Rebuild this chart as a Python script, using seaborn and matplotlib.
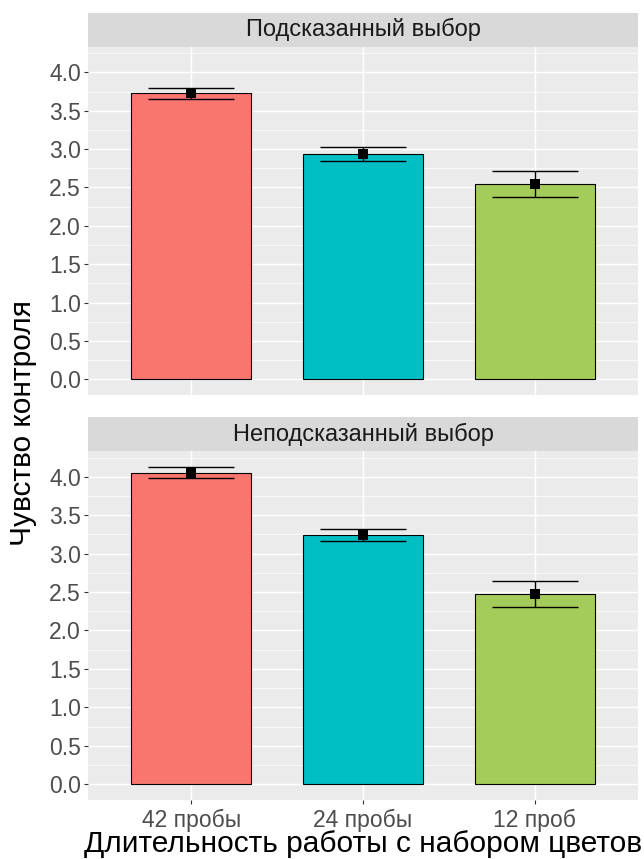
import numpy as np
import pandas as pd
import matplotlib
matplotlib.use("Agg")
import matplotlib.pyplot as plt
import seaborn as sns

# ---- data ----
categories = ["42 пробы", "24 пробы", "12 проб"]
panels = ["Подсказанный выбор", "Неподсказанный выбор"]
cued_means = [3.73, 2.94, 2.55]
cued_lower = [3.65, 2.84, 2.38]
cued_upper = [3.80, 3.03, 2.71]
uncued_means = [4.05, 3.24, 2.47]
uncued_lower = [3.98, 3.16, 2.30]
uncued_upper = [4.13, 3.32, 2.64]
y_ticks = [0.0, 0.5, 1.0, 1.5, 2.0, 2.5, 3.0, 3.5, 4.0]
x_title = "Длительность работы с набором цветов"
y_title = "Чувство контроля"

bar_colors = ["#F8766D", "#00BFC4", "#A3CC5B"]

sns.set_theme(style="darkgrid")
plt.rcParams["font.family"] = ["Liberation Sans", "DejaVu Sans"]

df = pd.DataFrame({
    "panel": [panels[0]] * 3 + [panels[1]] * 3,
    "duration": categories * 2,
    "mean": cued_means + uncued_means,
    "lower": cued_lower + uncued_lower,
    "upper": cued_upper + uncued_upper,
})

W, H = 644, 859
fig = plt.figure(figsize=(W / 100, H / 100), dpi=100)

left_px, right_px = 88, 638
panel_boxes = [(46.7, 395.0), (451.0, 800.0)]
strip_boxes = [(13.0, 46.7), (417.3, 451.0)]

all_vals = np.concatenate([df["lower"].values, df["upper"].values, df["mean"].values, [0.0]])
ymin_d, ymax_d = all_vals.min(), all_vals.max()
pad = (ymax_d - ymin_d) * 0.05
ylim = (ymin_d - pad, ymax_d + pad)

def frac_box(top, bottom):
    return [left_px / W, 1 - bottom / H, (right_px - left_px) / W, (bottom - top) / H]

for i, pname in enumerate(panels):
    sub = df[df["panel"] == pname].reset_index(drop=True)
    ax = fig.add_axes(frac_box(*panel_boxes[i]))
    ax.set_facecolor("#EBEBEB")
    sns.barplot(data=sub, x="duration", y="mean", hue="duration", order=categories,
                hue_order=categories, palette=bar_colors, width=0.7, saturation=1,
                edgecolor="black", linewidth=0.8, legend=False, ax=ax, zorder=2,
                errorbar=None)
    pos = np.arange(len(categories))
    ax.vlines(pos, sub["lower"], sub["upper"], color="black", linewidth=1.0, zorder=3)
    ax.hlines(sub["lower"], pos - 0.25, pos + 0.25, color="black", linewidth=1.0, zorder=3)
    ax.hlines(sub["upper"], pos - 0.25, pos + 0.25, color="black", linewidth=1.0, zorder=3)
    ax.scatter(pos, sub["mean"], marker="s", s=60, color="black", zorder=4, linewidths=0)

    ax.set_xlim(-0.6, len(categories) - 0.4)
    ax.set_ylim(*ylim)
    ax.set_yticks(y_ticks)
    ax.set_yticklabels([f"{v:.1f}" for v in y_ticks])
    ax.set_yticks(np.arange(0.25, 4.3, 0.5), minor=True)
    ax.grid(which="major", color="white", linewidth=1.05)
    ax.grid(which="minor", axis="y", color="white", linewidth=0.5)
    ax.set_axisbelow(True)
    for s in ax.spines.values():
        s.set_visible(False)
    ax.tick_params(axis="y", which="major", length=3, width=0.8, color="#333333",
                   labelsize=16.5, labelcolor="#4D4D4D", pad=2, left=True)
    ax.tick_params(axis="y", which="minor", length=0)
    ax.set_xlabel("")
    ax.set_ylabel("")
    if i == 0:
        ax.tick_params(axis="x", length=0, labelbottom=False, bottom=False)
    else:
        ax.tick_params(axis="x", length=3, width=0.8, color="#333333", bottom=True,
                       labelsize=16.5, labelcolor="#4D4D4D", pad=3.3)

    sax = fig.add_axes(frac_box(*strip_boxes[i]))
    sax.set_facecolor("#D9D9D9")
    sax.set_xticks([])
    sax.set_yticks([])
    sax.grid(False)
    for s in sax.spines.values():
        s.set_visible(False)
    sax.text(0.5, 0.5, pname, ha="center", va="center", fontsize=17,
             color="#1A1A1A", transform=sax.transAxes)

fig.text(((left_px + right_px) / 2) / W, 1 - 844 / H, x_title, ha="center", va="center",
         fontsize=21.5, color="black")
fig.text(23.5 / W, 1 - ((46.7 + 800) / 2) / H, y_title, ha="center", va="center",
         rotation=90, fontsize=21.5, color="black")

fig.savefig("out.png", dpi=100)
